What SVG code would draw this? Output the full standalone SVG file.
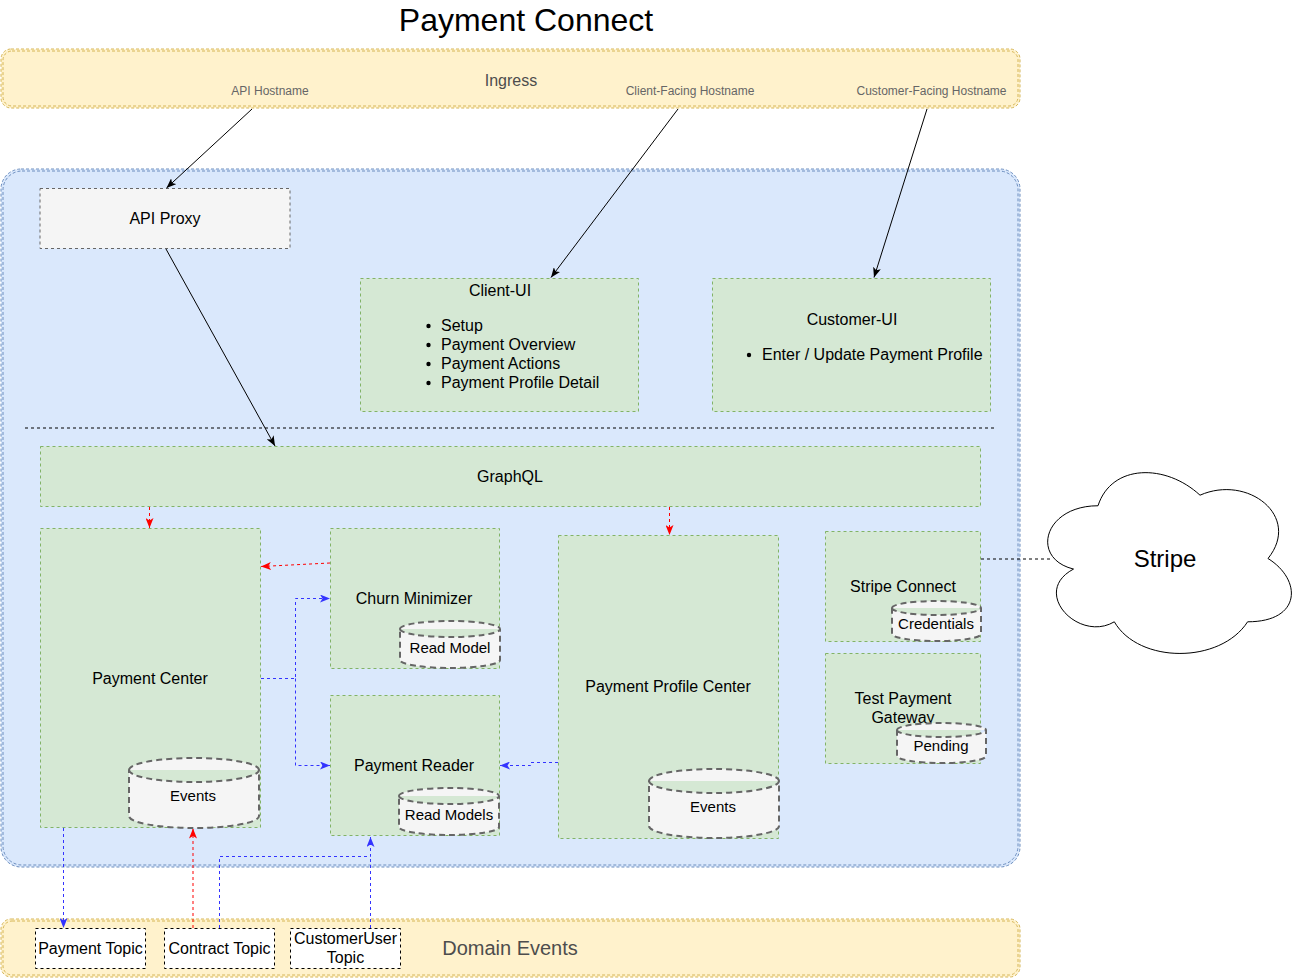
<svg xmlns="http://www.w3.org/2000/svg" width="1301" height="979" viewBox="0 0 1301 979">
<style>
text{font-family:"Liberation Sans",Arial,Helvetica,sans-serif;fill:#000}
.t16{font-size:16px}
.t15{font-size:15px}
.c{text-anchor:middle}
.host{font-size:12px;fill:#666}
.band{fill:#fff2cc;stroke:#d6b656;stroke-width:1;stroke-dasharray:3 2}
.band2{fill:none;stroke:#d6b656;stroke-width:1;stroke-dasharray:3 2}
.cont{fill:#dae8fc;stroke:#6c8ebf;stroke-width:1;stroke-dasharray:3 2}
.cont2{fill:none;stroke:#6c8ebf;stroke-width:1;stroke-dasharray:3 2}
.node{fill:#d5e8d4;stroke:#82b366;stroke-width:1;stroke-dasharray:3 3}
.proxy{fill:#f5f5f5;stroke:#666;stroke-width:1;stroke-dasharray:3 3}
.cyl{fill:#f5f5f5;stroke:#666;stroke-width:2;stroke-dasharray:6 4}
.topic{fill:#fff;stroke:#000;stroke-width:1;stroke-dasharray:3 3}
.blk{fill:none;stroke:#000;stroke-width:1}
.red{fill:none;stroke:#ff0000;stroke-width:1;stroke-dasharray:3 3}
.blue{fill:none;stroke:#3333ff;stroke-width:1;stroke-dasharray:3 3}
.sep{fill:none;stroke:#000;stroke-width:1;stroke-dasharray:3 3}
</style>
<defs>
<marker id="aK" viewBox="0 0 10 8" refX="10" refY="4" markerWidth="10" markerHeight="8" orient="auto" markerUnits="userSpaceOnUse"><path d="M0,0 L10,4 L0,8 L2.5,4 Z" fill="#000"/></marker>
<marker id="aR" viewBox="0 0 10 8" refX="10" refY="4" markerWidth="10" markerHeight="8" orient="auto" markerUnits="userSpaceOnUse"><path d="M0,0 L10,4 L0,8 L2.5,4 Z" fill="#ff0000"/></marker>
<marker id="aB" viewBox="0 0 10 8" refX="10" refY="4" markerWidth="10" markerHeight="8" orient="auto" markerUnits="userSpaceOnUse"><path d="M0,0 L10,4 L0,8 L2.5,4 Z" fill="#3333ff"/></marker>
</defs>

<text x="526" y="31" class="c" style="font-size:32px">Payment Connect</text>

<g id="ingress">
<rect x="1" y="49" width="1019" height="59" rx="10" class="band"/>
<rect x="3" y="51" width="1015" height="55" rx="9" class="band2"/>
<text x="511" y="86" class="c t16" style="fill:#4d4d4d">Ingress</text>
<text x="270" y="95" class="c host">API Hostname</text>
<text x="690" y="95" class="c host">Client-Facing Hostname</text>
<text x="931.5" y="95" class="c host">Customer-Facing Hostname</text>
</g>

<g id="platform">
<rect x="1" y="169" width="1019" height="698" rx="20" class="cont"/>
<rect x="3" y="171" width="1015" height="694" rx="19" class="cont2"/>
<line x1="25" y1="428" x2="997" y2="428" class="sep"/>
</g>

<g id="api-proxy">
<rect x="40" y="188.5" width="250" height="60" class="proxy"/>
<text x="165" y="224" class="c t16">API Proxy</text>
</g>

<g id="client-ui">
<rect x="360.5" y="278.5" width="278" height="133" class="node"/>
<text x="500" y="296" class="c t16">Client-UI</text>
<circle cx="428.5" cy="326" r="2.2"/>
<circle cx="428.5" cy="345" r="2.2"/>
<circle cx="428.5" cy="364" r="2.2"/>
<circle cx="428.5" cy="383" r="2.2"/>
<text x="441" y="331" class="t16">Setup</text>
<text x="441" y="350" class="t16">Payment Overview</text>
<text x="441" y="369" class="t16">Payment Actions</text>
<text x="441" y="388" class="t16">Payment Profile Detail</text>
</g>

<g id="customer-ui">
<rect x="712.5" y="278.5" width="278" height="133" class="node"/>
<text x="852" y="325" class="c t16">Customer-UI</text>
<circle cx="749" cy="355" r="2.2"/>
<text x="762" y="360" class="t16">Enter / Update Payment Profile</text>
</g>

<g id="graphql">
<rect x="40.5" y="446.5" width="940" height="60" class="node"/>
<text x="510" y="482" class="c t16">GraphQL</text>
</g>

<g id="payment-center">
<rect x="40.5" y="528.5" width="220" height="299" class="node"/>
<text x="150" y="684" class="c t16">Payment Center</text>
<path d="M129,770 A65,12 0 0 1 259,770 L259,816 A65,12 0 0 1 129,816 Z M129,770 A65,12 0 0 0 259,770" class="cyl"/>
<text x="193" y="801" class="c t15">Events</text>
</g>

<g id="churn-minimizer">
<rect x="330.5" y="528.5" width="169" height="140" class="node"/>
<text x="414" y="604" class="c t16">Churn Minimizer</text>
<path d="M400,629 A50,8 0 0 1 500,629 L500,660 A50,8 0 0 1 400,660 Z M400,629 A50,8 0 0 0 500,629" class="cyl"/>
<text x="450" y="653" class="c t15">Read Model</text>
</g>

<g id="payment-reader">
<rect x="330.5" y="695.5" width="169" height="140" class="node"/>
<text x="414" y="771" class="c t16">Payment Reader</text>
<path d="M399,796 A50,8 0 0 1 499,796 L499,827 A50,8 0 0 1 399,827 Z M399,796 A50,8 0 0 0 499,796" class="cyl"/>
<text x="449" y="820" class="c t15">Read Models</text>
</g>

<g id="payment-profile-center">
<rect x="558.5" y="535.5" width="220" height="303" class="node"/>
<text x="668" y="692" class="c t16">Payment Profile Center</text>
<path d="M649,781 A65,12 0 0 1 779,781 L779,826 A65,12 0 0 1 649,826 Z M649,781 A65,12 0 0 0 779,781" class="cyl"/>
<text x="713" y="812" class="c t15">Events</text>
</g>

<g id="stripe-connect">
<rect x="825.5" y="531.5" width="155" height="110" class="node"/>
<text x="903" y="592" class="c t16">Stripe Connect</text>
<path d="M892,608 A44.5,7 0 0 1 981,608 L981,634 A44.5,7 0 0 1 892,634 Z M892,608 A44.5,7 0 0 0 981,608" class="cyl"/>
<text x="936" y="629" class="c t15">Credentials</text>
</g>

<g id="test-payment-gateway">
<rect x="825.5" y="653.5" width="155" height="110" class="node"/>
<text x="903" y="704" class="c t16">Test Payment</text>
<text x="903" y="723" class="c t16">Gateway</text>
<path d="M897,730 A44.5,7 0 0 1 986,730 L986,756 A44.5,7 0 0 1 897,756 Z M897,730 A44.5,7 0 0 0 986,730" class="cyl"/>
<text x="941" y="751" class="c t15">Pending</text>
</g>

<g id="stripe">
<path d="M1098,505.75 C1043.6,505.75 1030,558.5 1073.52,569.05 C1030,592.26 1078.96,642.9 1114.32,621.8 C1138.8,664 1220.4,664 1247.6,621.8 C1302,621.8 1302,579.6 1268,558.5 C1302,516.3 1247.6,474.1 1200,495.2 C1166,463.55 1111.6,463.55 1098,505.75 Z" fill="#fff" stroke="#000" stroke-width="1"/>
<text x="1165" y="567" class="c" style="font-size:24px">Stripe</text>
</g>

<g id="domain-events">
<rect x="1" y="919" width="1019" height="58" rx="10" class="band"/>
<rect x="3" y="921" width="1015" height="54" rx="9" class="band2"/>
<text x="510" y="955" class="c" style="font-size:20px;fill:#4d4d4d">Domain Events</text>
</g>

<g id="payment-topic">
<rect x="35.5" y="928.5" width="110" height="40" class="topic"/>
<text x="90.5" y="954" class="c t16">Payment Topic</text>
</g>
<g id="contract-topic">
<rect x="164.5" y="928.5" width="110" height="40" class="topic"/>
<text x="219.5" y="954" class="c t16">Contract Topic</text>
</g>
<g id="customeruser-topic">
<rect x="290.5" y="928.5" width="110" height="40" class="topic"/>
<text x="345.5" y="944" class="c t16">CustomerUser</text>
<text x="345.5" y="963" class="c t16">Topic</text>
</g>

<g id="connectors">
<line x1="252" y1="109" x2="166.5" y2="188" class="blk" marker-end="url(#aK)"/>
<line x1="678" y1="109" x2="551" y2="277.5" class="blk" marker-end="url(#aK)"/>
<line x1="927" y1="109" x2="874" y2="277.5" class="blk" marker-end="url(#aK)"/>
<line x1="166" y1="249" x2="275" y2="446" class="blk" marker-end="url(#aK)"/>
<line x1="981" y1="559" x2="1052" y2="559" class="sep"/>

<line x1="149.5" y1="507" x2="149.5" y2="528" class="red" marker-end="url(#aR)"/>
<line x1="669.5" y1="507" x2="669.5" y2="535" class="red" marker-end="url(#aR)"/>
<line x1="330" y1="563" x2="261" y2="566.5" class="red" marker-end="url(#aR)"/>
<line x1="193" y1="928" x2="193" y2="828.5" class="red" marker-end="url(#aR)"/>

<path d="M261,678.5 L295.5,678.5 L295.5,598.5 L330,598.5" class="blue" marker-end="url(#aB)"/>
<path d="M295.5,678.5 L295.5,765.5 L330,765.5" class="blue" marker-end="url(#aB)"/>
<path d="M558,762.5 L530.5,762.5 L530.5,765.5 L500,765.5" class="blue" marker-end="url(#aB)"/>
<line x1="63.5" y1="828" x2="63.5" y2="928" class="blue" marker-end="url(#aB)"/>
<path d="M219.5,928 L219.5,856.5 L370.5,856.5 L370.5,837" class="blue" marker-end="url(#aB)"/>
<line x1="370.5" y1="928" x2="370.5" y2="856.5" class="blue"/>
</g>
</svg>
